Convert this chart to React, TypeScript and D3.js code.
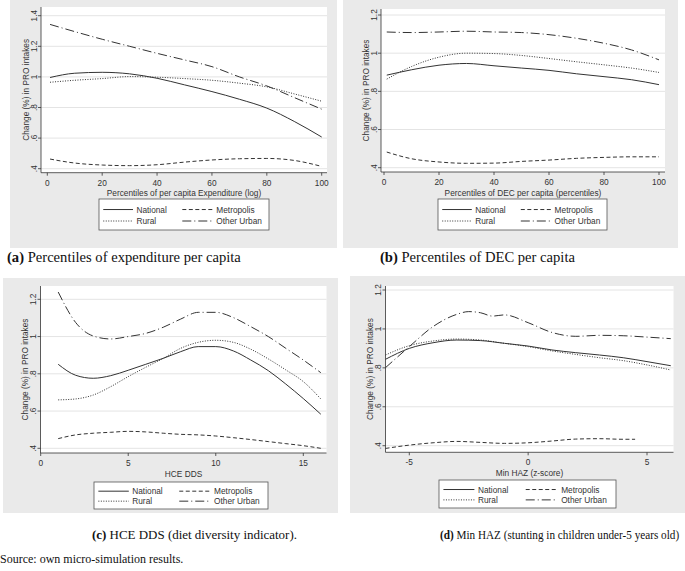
import React from 'react';
import * as d3 from 'd3';

// ---- data ----
const pctX = [1, 10, 20, 30, 40, 50, 60, 70, 80, 90, 100];

const nationalA = [0.996, 1.024, 1.03, 1.02, 0.991, 0.948, 0.904, 0.854, 0.796, 0.709, 0.607];
const ruralA = [0.965, 0.978, 0.989, 1.002, 0.998, 0.989, 0.978, 0.959, 0.935, 0.889, 0.841];
const metroA = [0.463, 0.437, 0.424, 0.42, 0.426, 0.443, 0.457, 0.465, 0.467, 0.454, 0.415];
const otherA = [1.343, 1.296, 1.246, 1.2, 1.154, 1.111, 1.067, 1.0, 0.941, 0.865, 0.789];

const nationalB = [0.885, 0.913, 0.937, 0.946, 0.934, 0.922, 0.91, 0.892, 0.877, 0.861, 0.835];
const ruralB = [0.864, 0.93, 0.979, 1.0, 0.998, 0.988, 0.972, 0.955, 0.939, 0.922, 0.899];
const metroB = [0.482, 0.447, 0.43, 0.423, 0.424, 0.433, 0.44, 0.449, 0.454, 0.457, 0.457];
const otherB = [1.111, 1.108, 1.111, 1.115, 1.111, 1.108, 1.097, 1.078, 1.052, 1.017, 0.965];

const ddsX = [1, 2, 3, 4, 5, 6, 7, 8, 9, 10, 11, 12, 13, 14, 15, 16];
const nationalC = [0.851, 0.792, 0.776, 0.79, 0.819, 0.851, 0.883, 0.919, 0.946, 0.946, 0.923, 0.874, 0.817, 0.745, 0.667, 0.583];
const ruralC = [0.66, 0.665, 0.686, 0.731, 0.785, 0.835, 0.883, 0.937, 0.969, 0.98, 0.969, 0.932, 0.88, 0.821, 0.758, 0.665];
const metroC = [0.452, 0.472, 0.481, 0.486, 0.491, 0.488, 0.481, 0.475, 0.472, 0.466, 0.457, 0.447, 0.436, 0.425, 0.414, 0.4];
const otherC = [1.239, 1.075, 1.003, 0.987, 1.0, 1.017, 1.05, 1.094, 1.13, 1.13, 1.102, 1.053, 1.0, 0.937, 0.874, 0.806];

const hazX = [-6, -5, -4, -3, -2, -1, 0, 1, 2, 3, 4, 5, 6];
const nationalD = [0.844, 0.9, 0.929, 0.943, 0.94, 0.926, 0.912, 0.892, 0.878, 0.866, 0.852, 0.832, 0.811];
const ruralD = [0.866, 0.914, 0.938, 0.948, 0.943, 0.926, 0.909, 0.887, 0.869, 0.852, 0.837, 0.815, 0.789];
const metroHazX = [-6, -5, -4, -3, -2, -1, 0, 1, 2, 3, 4, 4.5];
const metroD = [0.386, 0.403, 0.415, 0.422, 0.417, 0.412, 0.415, 0.424, 0.434, 0.436, 0.433, 0.433];
const otherHazX = [-6, -5, -4, -3, -2.5, -2, -1.5, -1, 0, 1, 2, 3, 4, 5, 6];
const otherD = [0.801, 0.909, 1.012, 1.075, 1.089, 1.083, 1.066, 1.072, 1.032, 0.982, 0.962, 0.967, 0.965, 0.958, 0.95];

const xTicksPct = [0, 20, 40, 60, 80, 100];
const xTicksDds = [0, 5, 10, 15];
const xTicksHaz = [-5, 0, 5];

const yTitle = 'Change (%) in PRO intakes';

const SANS = "'Liberation Sans', Arial, Helvetica, sans-serif";
const SERIF = "'Liberation Serif', 'Times New Roman', serif";
const BG = '#eaeaea';
const GRID = '#e4e4e4';
const INK = '#333';

const dashes: Record<string, string> = {
  National: 'none',
  Metropolis: '4,2.5',
  Rural: '1,1.5',
  'Other Urban': '9,3,1,3',
};
const legendOrder = ['National', 'Metropolis', 'Rural', 'Other Urban'];

type Series = { name: string; x: number[]; y: number[] };
type Cfg = {
  bg: number[]; // x1,y1,x2,y2
  plot: number[]; // x1,y1,x2,y2
  xDomain: number[];
  xRange: number[];
  yDomain: number[];
  yRange: number[];
  xTicks: number[];
  xTitle: string;
  legend: number[]; // x,y,w,h
};

const fmtY = (v: number) => {
  const s = String(+v.toFixed(1));
  return s.startsWith('0') ? s.slice(1) : s;
};

function Panel({ cfg, series }: { cfg: Cfg; series: Series[] }) {
  const x = d3.scaleLinear().domain(cfg.xDomain).range(cfg.xRange);
  const y = d3.scaleLinear().domain(cfg.yDomain).range(cfg.yRange);
  const [px1, py1, px2, py2] = cfg.plot;
  const [bx1, by1, bx2, by2] = cfg.bg;
  const n = Math.round((cfg.yDomain[1] - cfg.yDomain[0]) / 0.2);
  const yTicks = d3.range(n + 1).map((i) => +(cfg.yDomain[0] + 0.2 * i).toFixed(1));
  const line = d3
    .line<[number, number]>()
    .x((d) => x(d[0]))
    .y((d) => y(d[1]))
    .curve(d3.curveMonotoneX);
  const midY = (py1 + py2) / 2;
  const [lx, ly, lw, lh] = cfg.legend;
  const rows = [ly + lh * 0.34, ly + lh * 0.71];
  const cols = [
    { s0: lx + lw * 0.025, s1: lx + lw * 0.2, t: lx + lw * 0.22 },
    { s0: lx + lw * 0.49, s1: lx + lw * 0.67, t: lx + lw * 0.69 },
  ];

  return (
    <g fontFamily={SANS} fontSize={8.3} fill={INK}>
      <rect x={bx1} y={by1} width={bx2 - bx1} height={by2 - by1} fill={BG} />
      <rect x={px1} y={py1} width={px2 - px1} height={py2 - py1} fill="#fff" />
      {yTicks.map((t) => (
        <g key={t}>
          <line x1={px1} x2={px2} y1={y(t)} y2={y(t)} stroke={GRID} strokeWidth={1} />
          <line x1={px1 - 3} x2={px1} y1={y(t)} y2={y(t)} stroke={INK} strokeWidth={0.8} />
          <text transform={`translate(${px1 - 4.5},${y(t)}) rotate(-90)`} textAnchor="middle">
            {fmtY(t)}
          </text>
        </g>
      ))}
      <line x1={px1} x2={px1} y1={py1} y2={py2} stroke={INK} strokeWidth={0.8} />
      <line x1={px1} x2={px2} y1={py2} y2={py2} stroke={INK} strokeWidth={0.8} />
      {cfg.xTicks.map((t) => (
        <g key={t}>
          <line x1={x(t)} x2={x(t)} y1={py2} y2={py2 + 3} stroke={INK} strokeWidth={0.8} />
          <text x={x(t)} y={py2 + 13} textAnchor="middle">
            {t}
          </text>
        </g>
      ))}
      <text transform={`translate(${px1 - 12.5},${midY}) rotate(-90)`} textAnchor="middle">
        {yTitle}
      </text>
      <text x={(px1 + px2) / 2} y={py2 + 23.5} textAnchor="middle">
        {cfg.xTitle}
      </text>
      {series.map((s) => (
        <path
          key={s.name}
          d={line(s.x.map((v, i) => [v, s.y[i]] as [number, number])) || ''}
          fill="none"
          stroke={INK}
          strokeWidth={1}
          strokeDasharray={dashes[s.name]}
        />
      ))}
      <rect x={lx} y={ly} width={lw} height={lh} fill="#fff" stroke="#555" strokeWidth={0.8} />
      {legendOrder.map((name, i) => {
        const c = cols[i % 2];
        const r = rows[Math.floor(i / 2)];
        return (
          <g key={name}>
            <line x1={c.s0} x2={c.s1} y1={r} y2={r} stroke={INK} strokeWidth={1} strokeDasharray={dashes[name]} />
            <text x={c.t} y={r + 3}>
              {name}
            </text>
          </g>
        );
      })}
    </g>
  );
}

const mk = (x: number[], nat: number[], rur: number[], met: number[], oth: number[], mx = x, ox = x): Series[] => [
  { name: 'National', x, y: nat },
  { name: 'Rural', x, y: rur },
  { name: 'Metropolis', x: mx, y: met },
  { name: 'Other Urban', x: ox, y: oth },
];

const cfgA: Cfg = {
  bg: [10, 0, 337, 248],
  plot: [41, 7, 327, 172.7],
  xDomain: [0, 100],
  xRange: [47.3, 321.7],
  yDomain: [0.4, 1.4],
  yRange: [168.7, 15.7],
  xTicks: xTicksPct,
  xTitle: 'Percentiles of per capita Expenditure (log)',
  legend: [99, 199, 170, 31],
};
const cfgB: Cfg = {
  bg: [343, 0, 678, 248],
  plot: [381, 9, 665, 172],
  xDomain: [0, 100],
  xRange: [384, 659],
  yDomain: [0.4, 1.2],
  yRange: [167.7, 15],
  xTicks: xTicksPct,
  xTitle: 'Percentiles of DEC per capita (percentiles)',
  legend: [438, 199, 169, 31],
};
const cfgC: Cfg = {
  bg: [3, 278, 338, 513],
  plot: [40.5, 286, 326.5, 453],
  xDomain: [0, 15],
  xRange: [40.7, 303.3],
  yDomain: [0.4, 1.2],
  yRange: [448.3, 299.3],
  xTicks: xTicksDds,
  xTitle: 'HCE DDS',
  legend: [94, 482, 174, 27],
};
const cfgD: Cfg = {
  bg: [350, 276, 685, 513],
  plot: [385.5, 286, 673.5, 452.3],
  xDomain: [-5, 5],
  xRange: [409.3, 647],
  yDomain: [0.4, 1.2],
  yRange: [445.7, 290],
  xTicks: xTicksHaz,
  xTitle: 'Min HAZ (z-score)',
  legend: [439, 480, 177, 28],
};

// caption text; sx squeezes the line horizontally as in the source figure
function Caption({ x, y, size, sx = 1, tag, text }: { x: number; y: number; size: number; sx?: number; tag?: string; text: string }) {
  return (
    <text transform={`translate(${x},${y}) scale(${sx},1)`} fontFamily={SERIF} fontSize={size} fill="#111">
      {tag && <tspan fontWeight="bold">{tag} </tspan>}
      {text}
    </text>
  );
}

export default function App() {
  return (
    <div style={{ position: 'absolute', left: 0, top: 0 }}>
      <svg width={685} height={571} style={{ display: 'block', background: '#fff' }}>
        <Panel cfg={cfgA} series={mk(pctX, nationalA, ruralA, metroA, otherA)} />
        <Panel cfg={cfgB} series={mk(pctX, nationalB, ruralB, metroB, otherB)} />
        <Panel cfg={cfgC} series={mk(ddsX, nationalC, ruralC, metroC, otherC)} />
        <Panel cfg={cfgD} series={mk(hazX, nationalD, ruralD, metroD, otherD, metroHazX, otherHazX)} />
        <Caption x={7} y={262} size={14.6} tag="(a)" text="Percentiles of expenditure per capita" />
        <Caption x={380} y={262} size={14.6} tag="(b)" text="Percentiles of DEC per capita" />
        <Caption x={92} y={538.5} size={13.5} sx={0.96} tag="(c)" text="HCE DDS (diet diversity indicator)." />
        <Caption x={440} y={538.5} size={13.5} sx={0.83} tag="(d)" text="Min HAZ (stunting in children under-5 years old)" />
        <Caption x={0} y={563} size={13.5} sx={0.89} text="Source: own micro-simulation results." />
      </svg>
    </div>
  );
}
